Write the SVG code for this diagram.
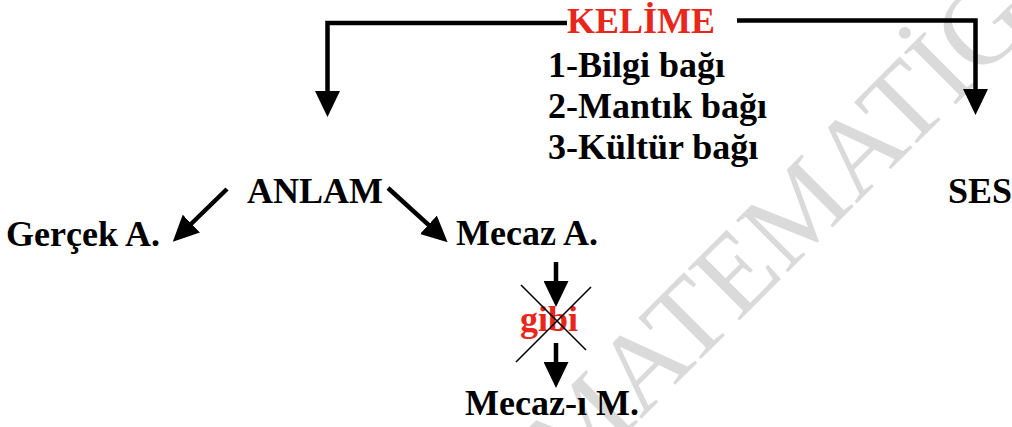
<svg xmlns="http://www.w3.org/2000/svg" width="1012" height="427" viewBox="0 0 1012 427">
<style>
.t{font-family:"Liberation Serif","Times New Roman",serif;font-weight:bold;font-size:36px;fill:#000}
.red{fill:#e8261b}
.wm{font-family:"Liberation Serif","Times New Roman",serif;font-size:112px;fill:#dadada}
.c{fill:none;stroke:#000;stroke-width:4.5;stroke-linejoin:miter}
.x{stroke:#000;stroke-width:1.6}
</style>
<defs>
<marker id="ah" viewBox="0 0 26 25" refX="2" refY="12.5" markerWidth="26" markerHeight="25" markerUnits="userSpaceOnUse" orient="auto">
<path d="M0,0 L26,12.5 L0,25 Z" fill="#000"/>
</marker>
</defs>
<rect width="1012" height="427" fill="#fff"/>
<text class="wm" transform="translate(570,490) rotate(-45)">MATEMATİG</text>
<g id="connectors">
<path class="c" d="M567,23 H327.5 V93" marker-end="url(#ah)"/>
<path class="c" d="M737,20.5 H975.5 V91" marker-end="url(#ah)"/>
<path class="c" d="M227,189 L190,225" marker-end="url(#ah)"/>
<path class="c" d="M388,188 L429.9,226.2" marker-end="url(#ah)"/>
<path class="c" d="M556,262 V283" marker-end="url(#ah)"/>
<path class="c" d="M556,343 V364" marker-end="url(#ah)"/>
</g>
<g id="kelime"><text class="t red" x="567" y="33">KELİME</text></g>
<g id="baglar">
<text class="t" x="548" y="77">1-Bilgi bağı</text>
<text class="t" x="548" y="118">2-Mantık bağı</text>
<text class="t" x="548" y="159">3-Kültür bağı</text>
</g>
<g id="ses"><text class="t" x="948" y="203">SES</text></g>
<g id="anlam"><text class="t" x="247" y="203">ANLAM</text></g>
<g id="gercek"><text class="t" x="6" y="246">Gerçek A.</text></g>
<g id="mecaz"><text class="t" x="456" y="245">Mecaz A.</text></g>
<g id="gibi">
<text class="t red" x="520" y="331">gibi</text>
<line class="x" x1="521" y1="285" x2="586" y2="350"/>
<line class="x" x1="591" y1="287" x2="516" y2="362"/>
</g>
<g id="mecazi"><text class="t" x="465" y="415">Mecaz-ı M.</text></g>
</svg>
